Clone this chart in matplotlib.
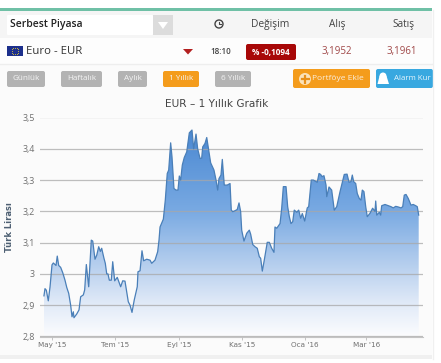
import matplotlib
matplotlib.use('Agg')
import matplotlib.pyplot as plt
import numpy as np
from matplotlib.patches import FancyBboxPatch, Rectangle, Polygon, Circle
from matplotlib.colors import LinearSegmentedColormap

# days counted from 1 May 2015
days = [-7.8, -6.8, -5.5, -3.6, -1.9, 0, 1.3, 3.9, 5.1, 6.5, 8.4, 10.4, 12.6, 14.3, 16.2, 18.1, 19.4, 20.7, 21.3,
        24, 26.2, 27.8, 30.4, 31.7, 33.3, 35.6, 38.1, 39.5, 41.7, 43.4, 45.3, 46.9, 48.2, 50.4, 51.7, 53.1, 54.3,
        55.6, 57.5, 58.9, 60.8, 63.3, 66.6, 68.6, 70.8, 74, 75.7, 77.6, 79.8, 82.7, 83.4, 85.4, 87.3, 88.9, 91.9,
        95.1, 96.7, 99.9, 102.5, 103.8, 104.8, 108, 109.9, 111.8, 113.2, 115.1, 116.4, 118.3, 120.3, 122.2, 123.5,
        124.8, 126.4, 128.3, 130.7, 132.2, 133.2, 135.8, 137.4, 139.7, 141.3, 143.6, 145.2, 146.2, 148.4, 150.1,
        152, 153.9, 157.1, 159.1, 160.7, 162, 163.9, 165.2, 167.1, 170, 172.7, 173.9, 175.3, 177.5, 179.7, 181.4,
        183, 184, 186.2, 188.9, 191.4, 192.7, 194.7, 196.9, 199.1, 201.1, 202.4, 204, 205.9, 208.8, 210.8, 213.1,
        215.3, 216.3, 218, 221.2, 222.8, 224.4, 227, 228.6, 230.2, 231.8, 233.5, 235, 237.4, 239.3, 241.2, 242.8,
        245.1, 247.6, 249, 251.5, 253.5, 257.3, 259, 260.6, 261.9, 263.8, 265.8, 266.5, 268.7, 271.3, 273.8, 276.2,
        279.4, 283.5, 286.2, 288.1, 290, 291.3, 292.6, 294.6, 296.1, 298.1, 299.7, 301, 302.6, 304.3, 305.8, 308.5,
        311, 313.3, 314, 315, 317.5, 318.8, 319.8, 323, 326.2, 328.8, 331, 333.4, 335.9, 338.5, 340.2, 341.7, 343.4,
        345.6, 348.2, 350.4, 352.8, 354.3, 355.7]
rates = [2.93, 2.953, 2.948, 2.914, 2.959, 3.029, 3.035, 3.027, 3.057, 3.027, 3.021, 3.004, 2.98, 2.957, 2.938, 2.90, 2.863, 2.879, 2.86,
         2.872, 2.885, 2.927, 2.933, 2.949, 3.03, 2.959, 3.108, 3.105, 3.047, 3.06, 3.087, 3.072, 3.082, 3.05, 3.034, 3.0, 3.0,
         2.98, 2.98, 3.039, 2.978, 2.989, 2.959, 2.978, 2.977, 2.911, 2.90, 2.877, 2.917, 2.959, 3.007, 3.01, 3.074, 3.042, 3.047,
         3.044, 3.034, 3.044, 3.071, 3.108, 3.15, 3.175, 3.236, 3.321, 3.332, 3.419, 3.374, 3.273, 3.268, 3.268, 3.313,
         3.30, 3.348, 3.372, 3.39, 3.428, 3.451, 3.46, 3.40, 3.447, 3.40, 3.369, 3.37, 3.406, 3.417, 3.436,
         3.396, 3.355, 3.332, 3.30, 3.268, 3.305, 3.316, 3.366, 3.284, 3.284, 3.289, 3.204, 3.199, 3.202, 3.206, 3.227,
         3.199, 3.14, 3.105, 3.13, 3.14, 3.127, 3.094, 3.087, 3.082, 3.055, 3.05, 3.009, 3.044, 3.101, 3.101, 3.082,
         3.069, 3.15, 3.146, 3.161, 3.21, 3.279, 3.279, 3.215, 3.183, 3.161, 3.167, 3.204, 3.197, 3.204, 3.178, 3.193,
         3.169, 3.211, 3.215, 3.30, 3.30, 3.293, 3.321, 3.318, 3.311, 3.314, 3.284, 3.247, 3.278, 3.268, 3.204, 3.215,
         3.263, 3.318, 3.319, 3.293, 3.295, 3.316, 3.295, 3.289, 3.257, 3.241, 3.236, 3.268, 3.263, 3.215, 3.183, 3.194,
         3.21, 3.20, 3.233, 3.188, 3.197, 3.188, 3.218, 3.222, 3.218, 3.215, 3.211, 3.216, 3.214, 3.211, 3.215, 3.252, 3.254,
         3.241, 3.22, 3.222, 3.218, 3.215, 3.188]

tick_days = [0, 61, 123, 184, 245, 305]
tick_names = ["May '15", "Tem '15", "Eyl '15", "Kas '15", "Oca '16", "Mar '16"]
y_ticks = [2.8, 2.9, 3, 3.1, 3.2, 3.3, 3.4, 3.5]
y_names = ['2,8', '2,9', '3', '3,1', '3,2', '3,3', '3,4', '3,5']

W, H = 441, 363
fig = plt.figure(figsize=(W / 100, H / 100), dpi=100, facecolor='white')
plt.rcParams['font.family'] = ['Open Sans', 'DejaVu Sans']

# page parts, drawn in pixel coordinates
bg = fig.add_axes([0, 0, 1, 1], zorder=0)
bg.set_xlim(0, W)
bg.set_ylim(H, 0)
bg.axis('off')


def box(x0, y0, x1, y1, color, r=2):
    bg.add_patch(FancyBboxPatch((x0 + r, y0 + r), x1 - x0 - 2 * r, y1 - y0 - 2 * r,
                                boxstyle='round,pad=%g,rounding_size=%g' % (r, r), fc=color, ec='none'))


bg.add_patch(Rectangle((0, 10), 432, 345, fc='#fbfbfb', ec='none'))
bg.add_patch(Rectangle((0, 8), 432, 3, fc='#6fc0a6', ec='none'))
bg.add_patch(Rectangle((0, 11), 432, 27, fc='#f5f5f5', ec='none'))
bg.add_patch(Rectangle((0, 38), 432, 26, fc='#fdfdfd', ec='none'))
bg.plot([0, 432], [64, 64], color='#eeeeee', lw=1)
bg.add_patch(Rectangle((0, 355), 432, 4, fc='#f0f0f0', ec='none'))
bg.plot([432.5, 432.5], [10, 359], color='#f0f0f0', lw=1)

# dropdown
box(7, 15, 153, 35, 'white', 1)
bg.add_patch(Rectangle((153, 15), 20, 20, fc='#dcdcdc', ec='none'))
bg.add_patch(Polygon([[158, 22], [168, 22], [163, 29]], fc='white', ec='none'))
bg.text(10, 25, 'Serbest Piyasa', fontsize=7.5, color='#222222', va='center', fontweight='semibold')

# header row
bg.add_patch(Circle((219, 24), 4, fc='none', ec='#444444', lw=1))
bg.plot([219, 219, 221], [21.5, 24, 24], color='#444444', lw=0.8)
bg.text(270.5, 24.5, 'Değişim', fontsize=7.4, color='#444444', ha='center', va='center')
bg.text(337, 24.5, 'Alış', fontsize=7.2, color='#444444', ha='center', va='center')
bg.text(403, 24.5, 'Satış', fontsize=7.2, color='#444444', ha='center', va='center')

# euro row
bg.add_patch(Rectangle((7, 46), 16, 10, fc='#1c2f8c', ec='none'))
ang = np.linspace(0, 2 * np.pi, 12, endpoint=False)
bg.scatter(15 + 3.4 * np.cos(ang), 51 + 3.4 * np.sin(ang), s=0.5, color='#c8b840', linewidths=0)
bg.text(26, 52, 'Euro - EUR', fontsize=8.2, color='#333333', va='center')
bg.add_patch(Polygon([[183, 49], [193, 49], [188, 54.5]], fc='#b32020', ec='none'))
bg.text(220.5, 51, '18:10', fontsize=5.8, color='#444444', ha='center', va='center', fontweight='semibold')
box(246, 44, 296, 60, '#a80808', 2)
bg.text(271, 52, '% -0,1094', fontsize=5.9, color='white', ha='center', va='center', fontweight='bold')
bg.text(337, 51.5, '3,1952', fontsize=7, color='#a04848', ha='center', va='center')
bg.text(402, 51.5, '3,1961', fontsize=7, color='#a04848', ha='center', va='center')

# period buttons
buttons = [(7, 45, 'Günlük', '#b3b3b3'), (61, 102, 'Haftalık', '#b3b3b3'), (118, 147, 'Aylık', '#b3b3b3'),
           (163, 199, '1 Yıllık', '#f49c1c'), (215, 251, '6 Yıllık', '#b3b3b3')]
for x0, x1, name, col in buttons:
    box(x0, 71, x1, 87, col, 2)
    bg.text((x0 + x1) / 2, 79, name, fontsize=5.9, color='#f4f4f4', ha='center', va='center')

box(293, 69, 370, 88, '#f49c1c', 2)
bg.add_patch(Circle((305, 79), 6, fc='#fbe3bb', ec='none'))
bg.plot([301.5, 308.5], [79, 79], color='#e8901a', lw=1.6)
bg.plot([305, 305], [75.5, 82.5], color='#e8901a', lw=1.6)
bg.text(338, 78.5, 'Portföye Ekle', fontsize=6, color='#fbeedd', ha='center', va='center')
box(376, 69, 433, 88, '#38a8e0', 2)
bg.add_patch(Circle((383, 76), 3.5, fc='white', ec='none'))
bg.add_patch(Polygon([[379.5, 76], [386.5, 76], [389, 84], [377.5, 84]], fc='white', ec='none'))
bg.text(412, 78.5, 'Alarm Kur', fontsize=5.7, color='#e8f6fd', ha='center', va='center')

# chart, axes box runs from px 40 to px 423 and from 3.5 (117.5) to 2.8 (336.5)
x_per_px = 0.97
ax = fig.add_axes([40 / W, 1 - 336.5 / H, 383 / W, 219 / H], zorder=1)
ax.patch.set_alpha(0)

cmap = LinearSegmentedColormap.from_list('fill', [(0, '#4a88d2'), (0.39, '#78a9e2'), (0.7, '#c0d5f0'),
                                                  (0.85, '#e2ebf8'), (1, '#fbfcfe')])
grad = np.linspace(0, 1, 256).reshape(-1, 1)
im = ax.imshow(grad, cmap=cmap, aspect='auto', extent=[days[0], days[-1], 2.8, 3.46], zorder=1)
poly = ax.fill_between(days, rates, 2.8, color='none')
im.set_clip_path(poly.get_paths()[0], transform=ax.transData)
ax.set_xlim((40 - 52) * x_per_px, (423 - 52) * x_per_px)
ax.set_ylim(2.8, 3.5)

ax.plot(days, rates, color='#4a7fb8', lw=0.9, zorder=3)
ax.set_yticks(y_ticks)
ax.set_yticklabels(y_names, fontsize=6.4, color='#707070', family='Open Sans')
ax.set_xticks(tick_days)
ax.set_xticklabels(tick_names, fontsize=5.2, color='#707070', family='DejaVu Sans')
ax.grid(axis='y', color='#a8a8a8', lw=0.9, alpha=0.75, zorder=2)
ax.set_axisbelow(False)
ax.tick_params(axis='y', length=0, pad=3.6)
ax.tick_params(axis='x', length=2, width=0.6, color='#bbbbbb', pad=2)
for side in ['top', 'right', 'left']:
    ax.spines[side].set_visible(False)
ax.spines['bottom'].set_color('#c4c4c4')
ax.spines['bottom'].set_linewidth(0.8)
ax.set_ylabel('Türk Lirası', fontsize=6, color='#4d5f72', fontweight='bold', family='DejaVu Sans')
ax.yaxis.set_label_coords(-0.0666, 0.5)
fig.text(217 / W, 1 - 104 / H, 'EUR – 1 Yıllık Grafik', fontsize=7.6, color='#444444', ha='center', va='center',
         family='DejaVu Sans', zorder=3)

fig.savefig('out.png', dpi=100)
